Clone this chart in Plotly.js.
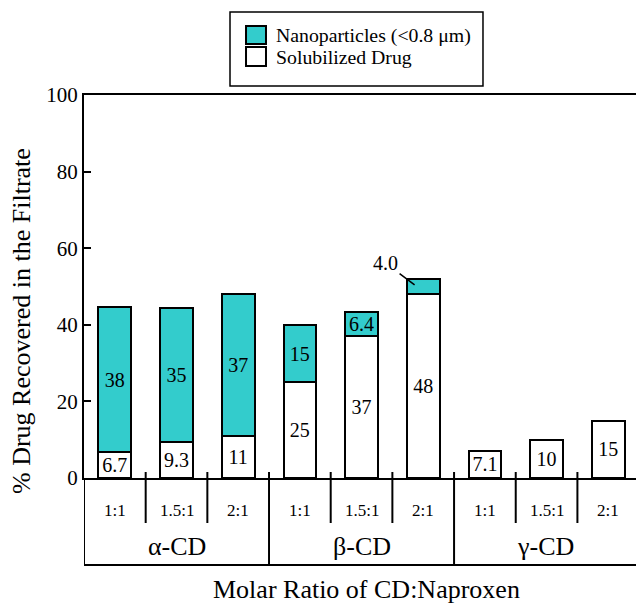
<!DOCTYPE html>
<html>
<head>
<meta charset="utf-8">
<script src="https://cdn.plot.ly/plotly-3.0.1.min.js"></script>
<style>html,body{margin:0;padding:0;background:#fff;}#chart{width:636px;height:603px;}</style>
</head>
<body>
<div id="chart"></div>
<script>
// ---- data ----
const ratios = ['1:1', '1.5:1', '2:1', '1:1', '1.5:1', '2:1', '1:1', '1.5:1', '2:1'];
const groups = ['α-CD', 'β-CD', 'γ-CD'];
const groupSize = 3;
const solubilized = [6.7, 9.3, 11, 25, 37, 48, 7.1, 10, 15];
const nanoparticles = [38, 35, 37, 15, 6.4, 4.0, 0, 0, 0];
const solubilizedLabels = ['6.7', '9.3', '11', '25', '37', '48', '7.1', '10', '15'];
const nanoLabels = ['38', '35', '37', '15', '6.4', '', '', '', ''];
const calloutIndex = 5;          // nanoparticle value shown with a leader line
const calloutLabel = '4.0';
const yTicks = [0, 20, 40, 60, 80, 100];
const legendNames = ['Nanoparticles (<0.8 μm)', 'Solubilized Drug'];
const legendColors = ['#33CCCC', '#ffffff'];

const FONT = '"Liberation Serif", "Times New Roman", Times, serif';
const xIdx = ratios.map((_, i) => i);
const xMin = -0.5, xMax = 8.45;

function f(size) { return {family: FONT, size: size, color: '#000'}; }

const common = {
  type: 'bar', x: xIdx, width: 0.53, showlegend: false,
  textposition: 'inside', insidetextanchor: 'middle', textangle: 0,
  constraintext: 'none', cliponaxis: false,
  textfont: f(20), insidetextfont: f(20),
  hoverinfo: 'skip'
};
const traces = [
  Object.assign({}, common, {
    name: legendNames[1], y: solubilized, text: solubilizedLabels,
    marker: {color: legendColors[1], line: {color: '#000', width: 2}}
  }),
  Object.assign({}, common, {
    name: legendNames[0], y: nanoparticles, text: nanoLabels,
    marker: {color: legendColors[0], line: {color: '#000', width: 2}}
  })
];

// ---- category table below the axis ----
const shapes = [];
const annotations = [];
const lineStyle = {color: '#000', width: 2};
const yTopSep = 0.0157, yRatioBottom = -0.1175, yTableBottom = -0.227;
shapes.push({type: 'line', xref: 'x', yref: 'paper', x0: xMin, x1: xMin, y0: 0, y1: yTableBottom, line: lineStyle});
shapes.push({type: 'line', xref: 'paper', yref: 'paper', x0: 0, x1: 1, y0: yTableBottom, y1: yTableBottom, line: lineStyle});
for (let i = 0; i < ratios.length - 1; i++) {
  const isGroup = (i + 1) % groupSize === 0;
  shapes.push({type: 'line', xref: 'x', yref: 'paper', x0: i + 0.5, x1: i + 0.5,
    y0: yTopSep, y1: isGroup ? yTableBottom : yRatioBottom, line: lineStyle});
}
ratios.forEach((r, i) => {
  annotations.push({xref: 'x', yref: 'paper', x: i, y: -0.0836, text: r, showarrow: false,
    xanchor: 'center', yanchor: 'middle', font: f(17)});
});
groups.forEach((g, k) => {
  const a = k * groupSize - 0.5;
  const b = Math.min((k + 1) * groupSize - 0.5, xMax);
  annotations.push({xref: 'x', yref: 'paper', x: (a + b) / 2, y: -0.18, text: g, showarrow: false,
    xanchor: 'center', yanchor: 'middle', font: f(26)});
});
// callout for the small nanoparticle segment
annotations.push({
  xref: 'x', yref: 'y', x: calloutIndex - 0.14,
  y: solubilized[calloutIndex] + nanoparticles[calloutIndex] * 0.6,
  text: calloutLabel, showarrow: true, arrowhead: 0, arrowwidth: 1.5, arrowcolor: '#000',
  ax: -29, ay: -22, standoff: 0, startstandoff: 0,
  font: f(20)
});
// axis titles
annotations.push({xref: 'paper', yref: 'paper', x: 0.512, y: -0.29, text: 'Molar Ratio of CD:Naproxen',
  showarrow: false, xanchor: 'center', yanchor: 'middle', font: f(26)});
annotations.push({xref: 'paper', yref: 'paper', x: -0.1123, y: 0.41, text: '% Drug Recovered in the Filtrate',
  textangle: -90, showarrow: false, xanchor: 'center', yanchor: 'middle', font: f(26)});

// ---- legend (box, swatches, labels) ----
shapes.push({type: 'rect', xref: 'paper', yref: 'paper', x0: 0.2645, x1: 0.7228, y0: 1.0235, y1: 1.2167,
  line: {color: '#000', width: 1.5}, fillcolor: '#fff'});
const legendRows = [{top: 1.1802, bottom: 1.1332, text: 1.1554}, {top: 1.1253, bottom: 1.0757, text: 1.1005}];
legendNames.forEach((name, k) => {
  const r = legendRows[k];
  shapes.push({type: 'rect', xref: 'paper', yref: 'paper', x0: 0.2935, x1: 0.3297, y0: r.bottom, y1: r.top,
    line: {color: '#000', width: 2}, fillcolor: legendColors[k]});
  annotations.push({xref: 'paper', yref: 'paper', x: 0.3442, y: r.text, text: name, showarrow: false,
    xanchor: 'left', yanchor: 'middle', font: f(19.8)});
});

const layout = {
  width: 636, height: 603,
  margin: {l: 84, r: 0, t: 95, b: 125, pad: 0},
  paper_bgcolor: '#fff', plot_bgcolor: '#fff',
  barmode: 'stack', showlegend: false,
  font: f(18),
  xaxis: {range: [xMin, xMax], showgrid: false, zeroline: false, showticklabels: false, ticks: '',
    showline: true, linecolor: '#000', linewidth: 2, mirror: true, fixedrange: true},
  yaxis: {range: [0, 100], tickvals: yTicks, ticks: 'inside', ticklen: 7, tickwidth: 2, tickcolor: '#000',
    showgrid: false, zeroline: false, showline: true, linecolor: '#000', linewidth: 2,
    tickfont: f(21), fixedrange: true},
  shapes: shapes, annotations: annotations
};
Plotly.newPlot('chart', traces, layout, {displayModeBar: false, staticPlot: true});
</script>
</body>
</html>
